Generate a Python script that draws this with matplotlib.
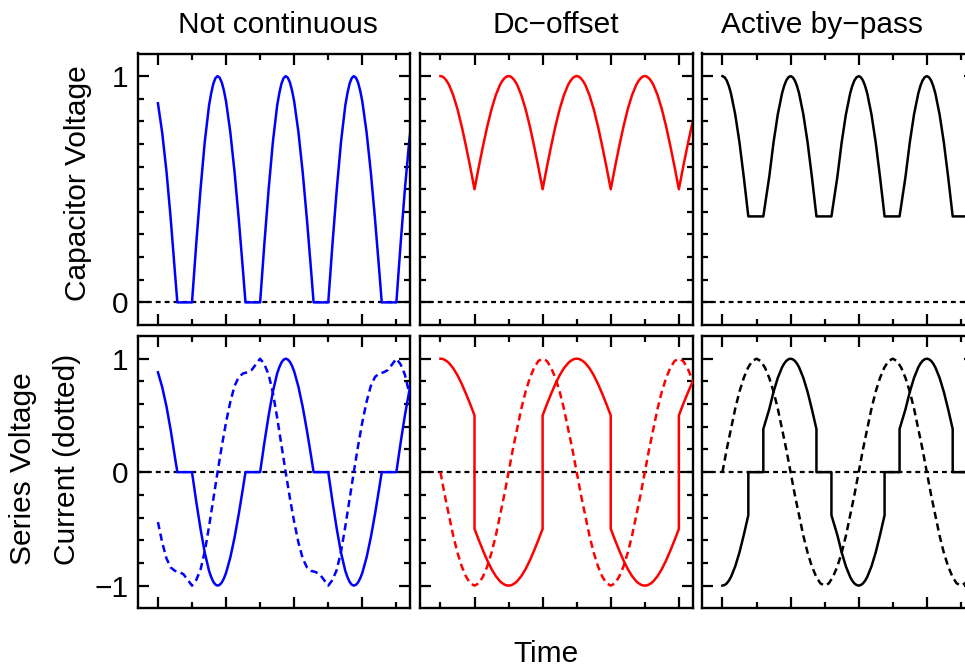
import numpy as np
import matplotlib
matplotlib.use('Agg')
import matplotlib.pyplot as plt
from matplotlib.ticker import FixedLocator, NullFormatter

plt.rcParams['font.family'] = ['Liberation Sans', 'DejaVu Sans']

# ---------------- data (time in tick units, 1 tick = quarter period) -------------
titles = ['Not continuous', 'Dc\u2212offset', 'Active by\u2212pass']
colors = ['#0000ff', '#ff0000', '#000000']

# regular time grid used for the currents
cur_t = np.linspace(0, 7.5, 61)

# --- Not continuous ---
nc_t = [0, 0.125, 0.25, 0.375, 0.5, 0.57,
        1.0, 1.125, 1.25, 1.375, 1.5, 1.5625, 1.625, 1.6875, 1.75, 1.8125, 1.875, 1.9375, 2.0, 2.125, 2.25, 2.375, 2.5, 2.57,
        3.0, 3.125, 3.25, 3.375, 3.5, 3.5625, 3.625, 3.6875, 3.75, 3.8125, 3.875, 3.9375, 4.0, 4.125, 4.25, 4.375, 4.5, 4.57,
        5.0, 5.125, 5.25, 5.375, 5.5, 5.5625, 5.625, 5.6875, 5.75, 5.8125, 5.875, 5.9375, 6.0, 6.125, 6.25, 6.375, 6.5, 6.57,
        7.0, 7.125, 7.25, 7.375, 7.5]
nc_cap = [0.88, 0.75, 0.58, 0.37, 0.13, 0.0,
          0.0, 0.26, 0.50, 0.71, 0.87, 0.924, 0.966, 0.991, 1.0, 0.993, 0.972, 0.936, 0.888, 0.752, 0.575, 0.365, 0.134, 0.0,
          0.0, 0.26, 0.50, 0.71, 0.87, 0.924, 0.966, 0.991, 1.0, 0.993, 0.972, 0.936, 0.888, 0.752, 0.575, 0.365, 0.134, 0.0,
          0.0, 0.26, 0.50, 0.71, 0.87, 0.924, 0.966, 0.991, 1.0, 0.993, 0.972, 0.936, 0.888, 0.752, 0.575, 0.365, 0.134, 0.0,
          0.0, 0.26, 0.50, 0.71, 0.87]
nc_ser = [0.88, 0.75, 0.58, 0.37, 0.13, 0.0,
          0.0, -0.26, -0.50, -0.71, -0.87, -0.924, -0.966, -0.991, -1.0, -0.993, -0.972, -0.936, -0.888, -0.752, -0.575, -0.365, -0.134, 0.0,
          0.0, 0.26, 0.50, 0.71, 0.87, 0.924, 0.966, 0.991, 1.0, 0.993, 0.972, 0.936, 0.888, 0.752, 0.575, 0.365, 0.134, 0.0,
          0.0, -0.26, -0.50, -0.71, -0.87, -0.924, -0.966, -0.991, -1.0, -0.993, -0.972, -0.936, -0.888, -0.752, -0.575, -0.365, -0.134, 0.0,
          0.0, 0.26, 0.50, 0.71, 0.87]
nc_cur = [-0.44, -0.62, -0.76, -0.84, -0.87, -0.88, -0.90, -0.95, -1.0,
          -0.95, -0.86, -0.70, -0.48, -0.24, 0.0, 0.23, 0.44, 0.62, 0.76, 0.84, 0.87, 0.88, 0.90, 0.95, 1.0,
          0.95, 0.86, 0.70, 0.48, 0.24, 0.0, -0.23, -0.44, -0.62, -0.76, -0.84, -0.87, -0.88, -0.90, -0.95, -1.0,
          -0.95, -0.86, -0.70, -0.48, -0.24, 0.0, 0.23, 0.44, 0.62, 0.76, 0.84, 0.87, 0.88, 0.90, 0.95, 1.0,
          0.95, 0.86, 0.70, 0.48]

# --- Dc-offset ---
dc_t = [0, 0.0625, 0.125, 0.1875, 0.25, 0.375, 0.5, 0.625, 0.75, 0.875, 1.0,
        1.0, 1.125, 1.25, 1.375, 1.5, 1.625, 1.75, 1.8125, 1.875, 1.9375, 2.0, 2.0625, 2.125, 2.1875, 2.25, 2.375, 2.5, 2.625, 2.75, 2.875, 3.0,
        3.0, 3.125, 3.25, 3.375, 3.5, 3.625, 3.75, 3.8125, 3.875, 3.9375, 4.0, 4.0625, 4.125, 4.1875, 4.25, 4.375, 4.5, 4.625, 4.75, 4.875, 5.0,
        5.0, 5.125, 5.25, 5.375, 5.5, 5.625, 5.75, 5.8125, 5.875, 5.9375, 6.0, 6.0625, 6.125, 6.1875, 6.25, 6.375, 6.5, 6.625, 6.75, 6.875, 7.0,
        7.0, 7.125, 7.25, 7.375, 7.5]
dc_cap = [1.0, 0.998, 0.99, 0.978, 0.962, 0.916, 0.854, 0.778, 0.691, 0.598, 0.5,
          0.5, 0.598, 0.691, 0.778, 0.854, 0.916, 0.962, 0.978, 0.99, 0.998, 1.0, 0.998, 0.99, 0.978, 0.962, 0.916, 0.854, 0.778, 0.691, 0.598, 0.5,
          0.5, 0.598, 0.691, 0.778, 0.854, 0.916, 0.962, 0.978, 0.99, 0.998, 1.0, 0.998, 0.99, 0.978, 0.962, 0.916, 0.854, 0.778, 0.691, 0.598, 0.5,
          0.5, 0.598, 0.691, 0.778, 0.854, 0.916, 0.962, 0.978, 0.99, 0.998, 1.0, 0.998, 0.99, 0.978, 0.962, 0.916, 0.854, 0.778, 0.691, 0.598, 0.5,
          0.5, 0.598, 0.691, 0.778, 0.854]
dc_ser = [1.0, 0.998, 0.99, 0.978, 0.962, 0.916, 0.854, 0.778, 0.691, 0.598, 0.5,
          -0.5, -0.598, -0.691, -0.778, -0.854, -0.916, -0.962, -0.978, -0.99, -0.998, -1.0, -0.998, -0.99, -0.978, -0.962, -0.916, -0.854, -0.778, -0.691, -0.598, -0.5,
          0.5, 0.598, 0.691, 0.778, 0.854, 0.916, 0.962, 0.978, 0.99, 0.998, 1.0, 0.998, 0.99, 0.978, 0.962, 0.916, 0.854, 0.778, 0.691, 0.598, 0.5,
          -0.5, -0.598, -0.691, -0.778, -0.854, -0.916, -0.962, -0.978, -0.99, -0.998, -1.0, -0.998, -0.99, -0.978, -0.962, -0.916, -0.854, -0.778, -0.691, -0.598, -0.5,
          0.5, 0.598, 0.691, 0.778, 0.854]
dc_cur = [0.0, -0.20, -0.38, -0.56, -0.71, -0.83, -0.92, -0.98, -1.0,
          -0.98, -0.92, -0.83, -0.71, -0.56, -0.38, -0.20, 0.0, 0.20, 0.38, 0.56, 0.71, 0.83, 0.92, 0.98, 1.0,
          0.98, 0.92, 0.83, 0.71, 0.56, 0.38, 0.20, 0.0, -0.20, -0.38, -0.56, -0.71, -0.83, -0.92, -0.98, -1.0,
          -0.98, -0.92, -0.83, -0.71, -0.56, -0.38, -0.20, 0.0, 0.20, 0.38, 0.56, 0.71, 0.83, 0.92, 0.98, 1.0,
          0.98, 0.92, 0.83, 0.71]

# --- Active by-pass ---
bp_t = [0, 0.0625, 0.125, 0.1875, 0.25, 0.375, 0.5, 0.625, 0.76, 0.76,
        1.2, 1.2, 1.375, 1.5, 1.625, 1.75, 1.8125, 1.875, 1.9375, 2.0, 2.0625, 2.125, 2.1875, 2.25, 2.375, 2.5, 2.625, 2.76, 2.76,
        3.2, 3.2, 3.375, 3.5, 3.625, 3.75, 3.8125, 3.875, 3.9375, 4.0, 4.0625, 4.125, 4.1875, 4.25, 4.375, 4.5, 4.625, 4.76, 4.76,
        5.2, 5.2, 5.375, 5.5, 5.625, 5.75, 5.8125, 5.875, 5.9375, 6.0, 6.0625, 6.125, 6.1875, 6.25, 6.375, 6.5, 6.625, 6.76, 6.76,
        7.2, 7.2, 7.375, 7.5]
bp_cap = [1.0, 0.995, 0.981, 0.957, 0.924, 0.831, 0.707, 0.556, 0.38, 0.38,
          0.38, 0.38, 0.556, 0.707, 0.831, 0.924, 0.957, 0.981, 0.995, 1.0, 0.995, 0.981, 0.957, 0.924, 0.831, 0.707, 0.556, 0.38, 0.38,
          0.38, 0.38, 0.556, 0.707, 0.831, 0.924, 0.957, 0.981, 0.995, 1.0, 0.995, 0.981, 0.957, 0.924, 0.831, 0.707, 0.556, 0.38, 0.38,
          0.38, 0.38, 0.556, 0.707, 0.831, 0.924, 0.957, 0.981, 0.995, 1.0, 0.995, 0.981, 0.957, 0.924, 0.831, 0.707, 0.556, 0.38, 0.38,
          0.38, 0.38, 0.556, 0.707]
bp_ser = [-1.0, -0.995, -0.981, -0.957, -0.924, -0.831, -0.707, -0.556, -0.38, 0.0,
          0.0, 0.38, 0.556, 0.707, 0.831, 0.924, 0.957, 0.981, 0.995, 1.0, 0.995, 0.981, 0.957, 0.924, 0.831, 0.707, 0.556, 0.38, 0.0,
          0.0, -0.38, -0.556, -0.707, -0.831, -0.924, -0.957, -0.981, -0.995, -1.0, -0.995, -0.981, -0.957, -0.924, -0.831, -0.707, -0.556, -0.38, 0.0,
          0.0, 0.38, 0.556, 0.707, 0.831, 0.924, 0.957, 0.981, 0.995, 1.0, 0.995, 0.981, 0.957, 0.924, 0.831, 0.707, 0.556, 0.38, 0.0,
          0.0, -0.38, -0.556, -0.707]
bp_cur = [0.0, 0.20, 0.38, 0.56, 0.71, 0.83, 0.92, 0.98, 1.0,
          0.98, 0.92, 0.83, 0.71, 0.56, 0.38, 0.20, 0.0, -0.20, -0.38, -0.56, -0.71, -0.83, -0.92, -0.98, -1.0,
          -0.98, -0.92, -0.83, -0.71, -0.56, -0.38, -0.20, 0.0, 0.20, 0.38, 0.56, 0.71, 0.83, 0.92, 0.98, 1.0,
          0.98, 0.92, 0.83, 0.71, 0.56, 0.38, 0.20, 0.0, -0.20, -0.38, -0.56, -0.71, -0.83, -0.92, -0.98, -1.0,
          -0.98, -0.92, -0.83, -0.71]

panels = [
    (nc_t, nc_cap, nc_ser, nc_cur),
    (dc_t, dc_cap, dc_ser, dc_cur),
    (bp_t, bp_cap, bp_ser, bp_cur),
]
major_x = [[0, 2, 4, 6], [1, 3, 5, 7], [0, 2, 4, 6]]
minor_x = [[1, 3, 5, 7], [0, 2, 4, 6], [1, 3, 5, 7]]

# ---------------- figure ----------------
W, H = 965, 668
FS = 21.5
fig = plt.figure(figsize=(W / 100, H / 100), dpi=100)


def pos(x0, y0, x1, y1):
    return [x0 / W, 1 - y1 / H, (x1 - x0) / W, (y1 - y0) / H]


lefts = [137.5, 420, 702]
pw = 272.5
rows = [(53.5, 325), (336, 608.3)]
LW = 1.8
zero_dash = (0, (2.2, 1.8))
cur_dash = (0, (2.9, 1.8))


def style(ax, col, row):
    ax.set_xlim(-0.6, 7.4)
    if row == 0:
        ax.set_ylim(-0.1, 1.1)
        ax.yaxis.set_major_locator(FixedLocator([0, 1]))
        ax.yaxis.set_minor_locator(FixedLocator([0.1 * k for k in range(1, 10)]))
    else:
        ax.set_ylim(-1.2, 1.2)
        ax.yaxis.set_major_locator(FixedLocator([-1, 0, 1]))
        ax.yaxis.set_minor_locator(FixedLocator([-0.8, -0.6, -0.4, -0.2, 0.2, 0.4, 0.6, 0.8]))
    ax.xaxis.set_major_locator(FixedLocator(major_x[col]))
    ax.xaxis.set_minor_locator(FixedLocator(minor_x[col]))
    ax.xaxis.set_major_formatter(NullFormatter())
    ax.yaxis.set_minor_formatter(NullFormatter())
    if col == 0:
        if row == 0:
            ax.set_yticklabels(['0', '1'])
        else:
            ax.set_yticklabels(['\u22121', '0', '1'])
    else:
        ax.yaxis.set_major_formatter(NullFormatter())
    ax.tick_params(which='both', direction='in', top=True, right=True,
                   width=1.6, color='black')
    ax.tick_params(which='major', length=8, pad=6.5, labelsize=FS)
    ax.tick_params(which='minor', length=4.5)
    for s in ax.spines.values():
        s.set_linewidth(1.7)


for col in range(3):
    t, cap, ser, cur = panels[col]
    c = colors[col]
    # top row: capacitor voltage
    ax = fig.add_axes(pos(lefts[col], rows[0][0], lefts[col] + pw, rows[0][1]))
    ax.axhline(0, color='black', lw=1.6, ls=zero_dash, zorder=1)
    ax.plot(t, cap, color=c, lw=LW, zorder=2, solid_joinstyle='round')
    style(ax, col, 0)
    # bottom row: series voltage and current
    ax = fig.add_axes(pos(lefts[col], rows[1][0], lefts[col] + pw, rows[1][1]))
    ax.axhline(0, color='black', lw=1.6, ls=zero_dash, zorder=1)
    ax.plot(cur_t, cur, color=c, lw=LW, ls=cur_dash, zorder=2)
    ax.plot(t, ser, color=c, lw=LW, zorder=3, solid_joinstyle='round')
    style(ax, col, 1)

# titles
title_x = [278, 556, 822]
for tx, tt in zip(title_x, titles):
    fig.text(tx / W, 1 - 33.3 / H, tt, ha='center', va='baseline', fontsize=FS)

# axis labels
fig.text(78 / W, 1 - 183 / H, 'Capacitor Voltage', rotation=90,
         ha='center', va='center', fontsize=FS)
fig.text(23 / W, 1 - 565 / H, 'Series Voltage', rotation=90,
         ha='center', va='bottom', fontsize=FS)
fig.text(67 / W, 1 - 565 / H, 'Current (dotted)', rotation=90,
         ha='center', va='bottom', fontsize=FS)
fig.text(546 / W, 1 - 662 / H, 'Time', ha='center', va='baseline', fontsize=FS)

fig.savefig('out.png', dpi=100)
